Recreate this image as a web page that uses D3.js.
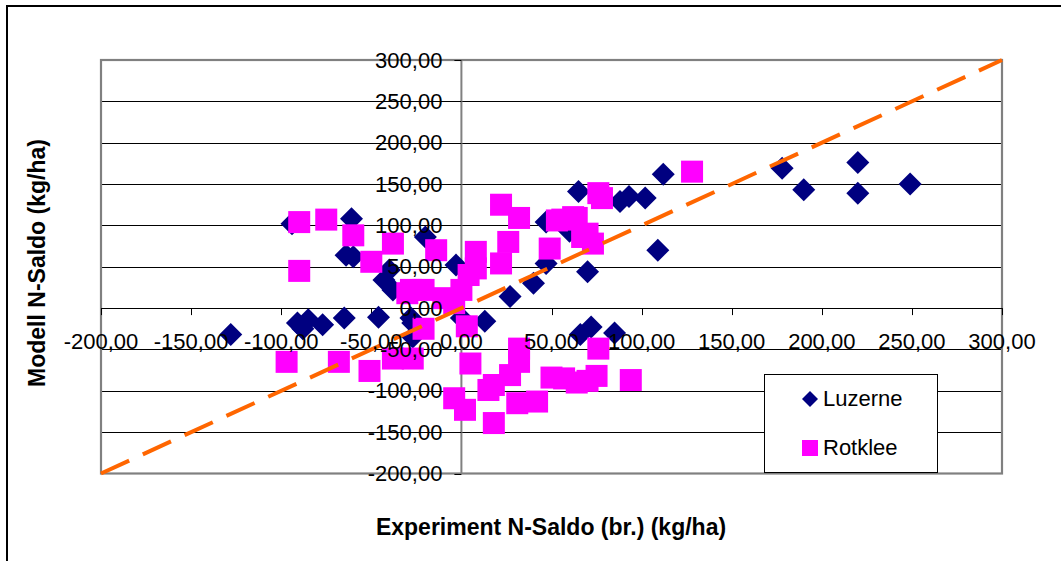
<!DOCTYPE html>
<html>
<head>
<meta charset="utf-8">
<script src="https://cdn.jsdelivr.net/npm/d3@7"></script>
<style>
  html, body { margin: 0; padding: 0; background: #fff; }
  svg { display: block; }
  text { font-family: "Liberation Sans", Arial, sans-serif; }
</style>
</head>
<body>
<svg id="chart" width="1061" height="561"></svg>
<script>
// ---- data ----
const tickValues = [-200, -150, -100, -50, 0, 50, 100, 150, 200, 250, 300];
const tickLabels = ["-200,00", "-150,00", "-100,00", "-50,00", "0,00", "50,00", "100,00", "150,00", "200,00", "250,00", "300,00"];
const seriesNames = ["Luzerne", "Rotklee"];
const xTitle = "Experiment N-Saldo (br.) (kg/ha)";
const yTitle = "Modell N-Saldo (kg/ha)";

const luzerne = [
  [-128, -32], [-94, 102], [-91, -18], [-88, -25], [-85, -14], [-77, -20],
  [-64, 64], [-60, 62], [-61, 108], [-65, -12], [-46, -11], [-43, 34],
  [-40, 46], [-38, 22], [-28, -12], [-27, -18], [-27, -35], [-20, 86],
  [-3, 52], [0, -12], [13, -16], [27, 14], [40, 30], [47, 54], [47, 104],
  [60, 93], [65, 141], [70, 44], [66, -32], [72, -23], [85, -30],
  [88, 129], [93, 135], [102, 133], [109, 70], [112, 162],
  [178, 169], [190, 143], [220, 176], [220, 139], [249, 150]
];

const rotklee = [
  [-90, 104], [-75, 107], [-60, 88], [-38, 78], [-50, 56], [-90, 45],
  [-30, 18], [-14, 70], [-28, 22], [-21, 22], [0, 22], [4, 40], [8, 68],
  [8, 48], [-10, 12], [-4, 6], [3, -22], [22, 125], [32, 109], [26, 80],
  [22, 54], [49, 72], [53, 106], [56, 107], [62, 110], [64, 109], [67, 86],
  [70, 90], [73, 78], [76, 139], [78, 133], [128, 165],
  [-97, -65], [-68, -65], [-51, -76], [-38, -61], [-27, -61], [-21, -25],
  [5, -67], [-4, -109], [2, -123], [15, -99], [18, -93], [18, -139],
  [32, -49], [32, -65], [27, -81], [31, -115], [42, -113], [50, -84],
  [57, -85], [64, -90], [70, -88], [75, -82], [76, -49], [94, -87]
];

const identityLine = [[-200, -200], [300, 300]];

// ---- chart ----
const svg = d3.select("#chart");
const x = d3.scaleLinear().domain([-200, 300]).range([101, 1002]);
const y = d3.scaleLinear().domain([-200, 300]).range([473.5, 60]);

// outer chart border
svg.append("rect")
  .attr("x", 7).attr("y", 6).attr("width", 1120).attr("height", 620)
  .attr("fill", "#fff").attr("stroke", "#000").attr("stroke-width", 2);

// plot area
svg.append("rect")
  .attr("x", x(-200)).attr("y", y(300))
  .attr("width", x(300) - x(-200)).attr("height", y(-200) - y(300))
  .attr("fill", "#fff");

// horizontal gridlines
svg.append("g").selectAll("line")
  .data(tickValues.filter(v => v > -200 && v < 300))
  .join("line")
  .attr("x1", x(-200)).attr("x2", x(300))
  .attr("y1", d => Math.round(y(d)) + 0.5).attr("y2", d => Math.round(y(d)) + 0.5)
  .attr("stroke", "#000").attr("stroke-width", 1);

// plot border
svg.append("rect")
  .attr("x", x(-200)).attr("y", y(300))
  .attr("width", x(300) - x(-200)).attr("height", y(-200) - y(300))
  .attr("fill", "none").attr("stroke", "#808080").attr("stroke-width", 2.2);

// y axis line (at x = 0)
svg.append("line")
  .attr("x1", x(0)).attr("x2", x(0))
  .attr("y1", y(300)).attr("y2", y(-200))
  .attr("stroke", "#808080").attr("stroke-width", 2);

// x axis line (at y = 0)
svg.append("line")
  .attr("x1", x(-200)).attr("x2", x(300))
  .attr("y1", Math.round(y(0)) + 0.5).attr("y2", Math.round(y(0)) + 0.5)
  .attr("stroke", "#000").attr("stroke-width", 1);

// ticks
svg.append("g").selectAll("line")
  .data(tickValues)
  .join("line")
  .attr("x1", x(0) - 7).attr("x2", x(0))
  .attr("y1", d => Math.round(y(d)) + 0.5).attr("y2", d => Math.round(y(d)) + 0.5)
  .attr("stroke", "#000").attr("stroke-width", 1);
svg.append("g").selectAll("line")
  .data(tickValues)
  .join("line")
  .attr("x1", d => Math.round(x(d)) + 0.5).attr("x2", d => Math.round(x(d)) + 0.5)
  .attr("y1", y(0)).attr("y2", y(0) + 7)
  .attr("stroke", "#000").attr("stroke-width", 1);

// markers: Luzerne (diamonds)
const dHalf = 11.5;
svg.append("g").selectAll("path")
  .data(luzerne)
  .join("path")
  .attr("d", d => {
    const cx = x(d[0]), cy = y(d[1]);
    return `M${cx},${cy - dHalf}L${cx + dHalf},${cy}L${cx},${cy + dHalf}L${cx - dHalf},${cy}Z`;
  })
  .attr("fill", "#000080");

// markers: Rotklee (squares)
const sq = 22;
svg.append("g").selectAll("rect")
  .data(rotklee)
  .join("rect")
  .attr("x", d => x(d[0]) - sq / 2).attr("y", d => y(d[1]) - sq / 2)
  .attr("width", sq).attr("height", sq)
  .attr("fill", "#ff00ff");

// dashed identity line
svg.append("path")
  .datum(identityLine)
  .attr("d", d3.line().x(d => x(d[0])).y(d => y(d[1])))
  .attr("fill", "none")
  .attr("stroke", "#ff6600").attr("stroke-width", 4)
  .attr("stroke-dasharray", "31,15");

// tick labels
svg.append("g").selectAll("text")
  .data(tickValues)
  .join("text")
  .attr("x", x(0) - 19)
  .attr("y", d => y(d) + 7.5)
  .attr("text-anchor", "end")
  .attr("font-size", 22)
  .text((d, i) => tickLabels[i]);
svg.append("g").selectAll("text")
  .data(tickValues)
  .join("text")
  .attr("x", d => x(d))
  .attr("y", y(0) + 41)
  .attr("text-anchor", "middle")
  .attr("font-size", 22)
  .text((d, i) => tickLabels[i]);

// axis titles
svg.append("text")
  .attr("x", 551).attr("y", 535)
  .attr("text-anchor", "middle")
  .attr("font-size", 23).attr("font-weight", "bold")
  .text(xTitle);
svg.append("text")
  .attr("transform", "translate(45,263) rotate(-90)")
  .attr("text-anchor", "middle")
  .attr("font-size", 23).attr("font-weight", "bold")
  .text(yTitle);

// legend
const lg = svg.append("g");
lg.append("rect")
  .attr("x", 764.5).attr("y", 374.5).attr("width", 173).attr("height", 98)
  .attr("fill", "#fff").attr("stroke", "#000").attr("stroke-width", 1);
lg.append("path")
  .attr("d", "M810,391L818,399L810,407L802,399Z")
  .attr("fill", "#000080");
lg.append("rect")
  .attr("x", 802).attr("y", 440).attr("width", 16).attr("height", 16)
  .attr("fill", "#ff00ff");
lg.append("text").attr("x", 823).attr("y", 406).attr("font-size", 22).text(seriesNames[0]);
lg.append("text").attr("x", 823).attr("y", 455).attr("font-size", 22).text(seriesNames[1]);
</script>
</body>
</html>
